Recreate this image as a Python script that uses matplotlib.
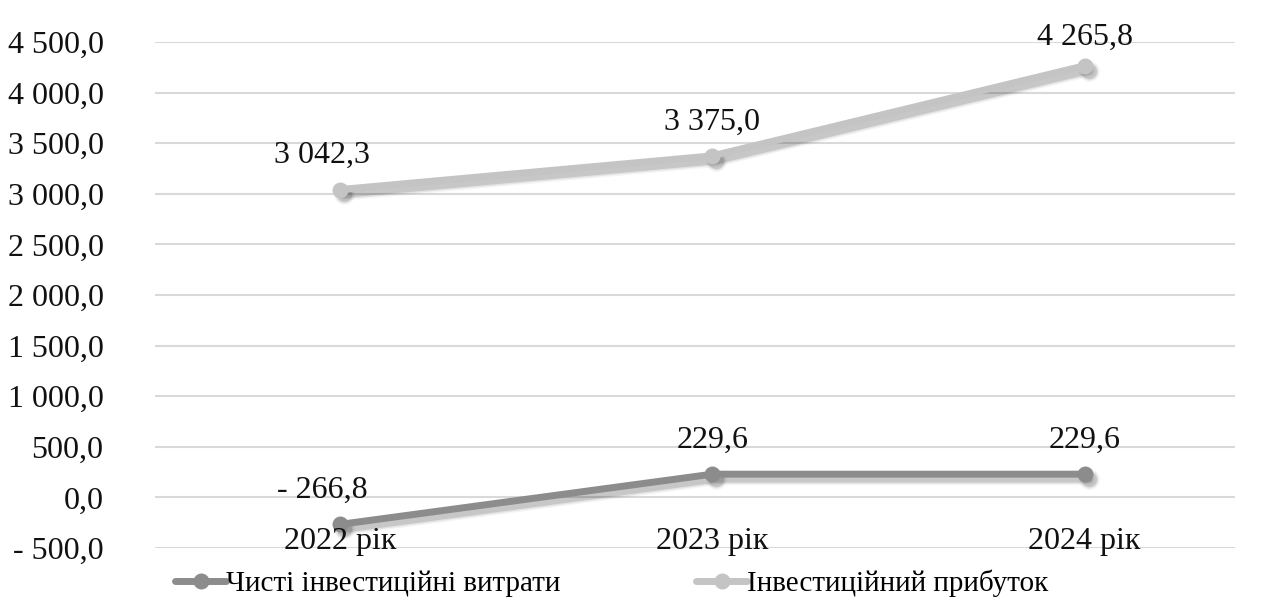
import matplotlib.pyplot as plt
import matplotlib.transforms as mtransforms

years = ["2022 рік", "2023 рік", "2024 рік"]
net_invest_costs = [-266.8, 229.6, 229.6]
invest_profit = [3042.3, 3375.0, 4265.8]
series_names = ["Чисті інвестиційні витрати", "Інвестиційний прибуток"]
y_ticks = [-500, 0, 500, 1000, 1500, 2000, 2500, 3000, 3500, 4000, 4500]

plt.rcParams["font.family"] = ["Liberation Serif", "DejaVu Serif"]
FS = 23


def fmt(v):
    s = f"{abs(v):,.1f}".replace(",", " ").replace(".", ",")
    return "- " + s if v < 0 else s


fig = plt.figure(figsize=(12.65, 6.02), dpi=100)
ax = fig.add_axes([0.1225, 0.0897, 0.8535, 0.8405])

x = list(range(len(years)))
colors = ["#8c8c8c", "#c4c4c4"]

for vals, name, col in zip([net_invest_costs, invest_profit], series_names, colors):
    # soft drop shadow: a few widening translucent strokes shifted down-right
    for k, (lw, a) in enumerate([(5, 0.12), (7, 0.07), (9, 0.04)]):
        tr = mtransforms.offset_copy(ax.transData, fig=fig, x=3, y=-3.5, units="points")
        ax.plot(x, vals, color="black", lw=lw, alpha=a, marker="o", ms=11 + 2 * k,
                mew=0, solid_capstyle="round", transform=tr, zorder=2)
    ax.plot(x, vals, color=col, lw=5, marker="o", ms=11.5, mew=0,
            solid_capstyle="round", label=name, zorder=3)
    for i, v in enumerate(vals):
        dx = -13 if i == 0 else 0
        dy = 15 if v > 4000 else 19  # keep the top label inside the chart
        ax.annotate(fmt(v), (i, v), xytext=(dx, dy), textcoords="offset points",
                    ha="center", va="baseline", fontsize=FS, color="#111111")

# category labels sit just above the bottom gridline
for i, lab in enumerate(years):
    ax.text(i, -510, lab, ha="center", va="baseline", fontsize=FS, color="#111111", zorder=4)

ax.set_xlim(-0.497, 2.403)
ax.set_ylim(-500, 4500)
ax.set_yticks(y_ticks)
ax.set_yticklabels([fmt(t) for t in y_ticks], fontsize=FS, color="#111111")
ax.set_xticks([])
ax.tick_params(axis="y", length=0, pad=37)
ax.grid(axis="y", color="#d9d9d9", lw=1.5)
ax.set_axisbelow(True)
for s in ax.spines.values():
    s.set_visible(False)

ax.legend(loc="center left", bbox_to_anchor=(175 / 1265, 1 - 583 / 602),
          bbox_transform=fig.transFigure, ncol=2, frameon=False,
          fontsize=21, handlelength=1.75, handletextpad=0.0, columnspacing=4.65,
          borderaxespad=0, borderpad=0)

fig.savefig("out.png", dpi=100)
